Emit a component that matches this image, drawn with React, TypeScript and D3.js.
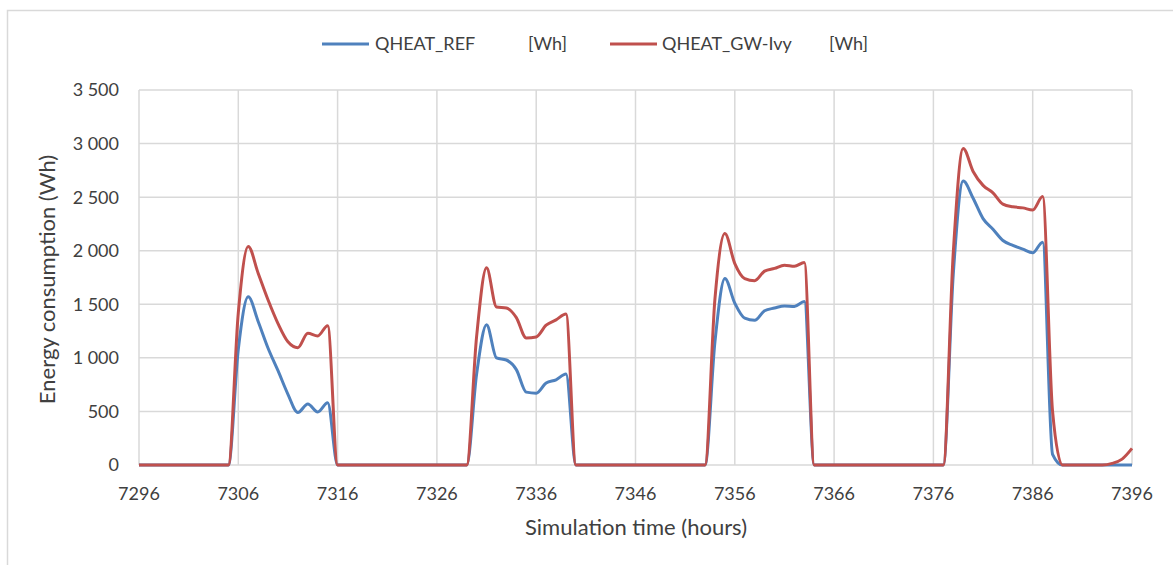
import React from "react";
import * as d3 from "d3";

const hours: number[] = d3.range(7296, 7397);

// QHEAT_REF [Wh], hourly values 7296..7396
const qheatRef: number[] = [
  0, 0, 0, 0, 0, 0, 0, 0, 0, 0, // 7296-7305
  1080, 1570, 1340, 1090, 880, 660, 490, 570, 495, 580, // 7306-7315
  0, 0, 0, 0, 0, 0, 0, 0, 0, 0, // 7316-7325
  0, 0, 0, 0, 850, 1310, 1000, 980, 890, 680, // 7326-7335
  670, 765, 795, 850, 0, 0, 0, 0, 0, 0, // 7336-7345
  0, 0, 0, 0, 0, 0, 0, 0, 1150, 1740, // 7346-7355
  1510, 1370, 1350, 1440, 1465, 1485, 1480, 1525, 0, 0, // 7356-7365
  0, 0, 0, 0, 0, 0, 0, 0, 0, 0, // 7366-7375
  0, 0, 1780, 2650, 2490, 2300, 2200, 2095, 2050, 2015, // 7376-7385
  1980, 2080, 100, 0, 0, 0, 0, 0, 0, 0, // 7386-7395
  0, // 7396
];

// QHEAT_GW-Ivy [Wh]
const qheatIvy: number[] = [
  0, 0, 0, 0, 0, 0, 0, 0, 0, 0,
  1420, 2040, 1790, 1540, 1320, 1150, 1095, 1230, 1205, 1300,
  0, 0, 0, 0, 0, 0, 0, 0, 0, 0,
  0, 0, 0, 0, 1200, 1840, 1475, 1465, 1375, 1185,
  1195, 1305, 1355, 1410, 0, 0, 0, 0, 0, 0,
  0, 0, 0, 0, 0, 0, 0, 0, 1550, 2160,
  1880, 1740, 1720, 1810, 1835, 1865, 1855, 1890, 0, 0,
  0, 0, 0, 0, 0, 0, 0, 0, 0, 0,
  0, 0, 1980, 2955, 2740, 2610, 2540, 2435, 2410, 2400,
  2380, 2505, 500, 0, 0, 0, 0, 0, 15, 55,
  155,
];

const xTicks: number[] = d3.range(7296, 7397, 10);
const yTicks: number[] = d3.range(0, 3501, 500);
const seriesNames: string[] = ["QHEAT_REF", "QHEAT_GW-Ivy"];
const seriesUnits: string[] = ["[Wh]", "[Wh]"];
const seriesColors: string[] = ["#4f81bd", "#c0504d"];

const W = 1173;
const H = 565;
const plot = { left: 139, right: 1132, top: 90, bottom: 465 };
const FONT = "Lato, 'Open Sans', sans-serif";
const TEXT = "#404040";

function fmt(v: number): string {
  if (v < 1000) return String(v);
  const s = String(v);
  return s.slice(0, s.length - 3) + " " + s.slice(s.length - 3);
}

export default function App() {
  const x = d3.scaleLinear().domain([7296, 7396]).range([plot.left, plot.right]);
  const y = d3.scaleLinear().domain([0, 3500]).range([plot.bottom, plot.top]);
  const line = d3
    .line<number>()
    .x((_, i) => x(hours[i]))
    .y((d) => y(d))
    .curve(d3.curveMonotoneX);

  const data = [qheatRef, qheatIvy];
  const legendLineX = [322, 610];
  const legendNameX = [375, 662];
  const legendUnitX = [528, 829];

  return (
    <svg width={W} height={H} style={{ position: "absolute", left: 0, top: 0 }}>
      <rect x={0} y={0} width={W} height={H} fill="#fff" />
      <rect x={7.5} y={10.5} width={W + 10} height={H + 10} fill="none" stroke="#d9d9d9" strokeWidth={1.5} />
      {/* gridlines */}
      {yTicks.map((t) => (
        <line key={"gy" + t} x1={plot.left} x2={plot.right} y1={y(t)} y2={y(t)} stroke="#d9d9d9" strokeWidth={1.5} />
      ))}
      {xTicks.map((t) => (
        <line key={"gx" + t} x1={x(t)} x2={x(t)} y1={plot.top} y2={plot.bottom} stroke="#d9d9d9" strokeWidth={1.5} />
      ))}
      {/* y tick labels */}
      {yTicks.map((t) => (
        <text key={"ty" + t} x={119} y={y(t)} dy="0.36em" textAnchor="end" fontFamily={FONT} fontSize={18} fill={TEXT}>
          {fmt(t)}
        </text>
      ))}
      {/* x tick labels */}
      {xTicks.map((t) => (
        <text key={"tx" + t} x={x(t)} y={500} textAnchor="middle" fontFamily={FONT} fontSize={18} fill={TEXT}>
          {t}
        </text>
      ))}
      {/* lines */}
      {data.map((d, i) => (
        <path key={"l" + i} d={line(d) || ""} fill="none" stroke={seriesColors[i]} strokeWidth={3} strokeLinejoin="round" />
      ))}
      {/* axis titles */}
      <text x={636} y={535} textAnchor="middle" fontFamily={FONT} fontSize={22} fill={TEXT}>
        Simulation time (hours)
      </text>
      <text
        transform={`translate(55,${(plot.top + plot.bottom) / 2 + 2}) rotate(-90)`}
        textAnchor="middle"
        fontFamily={FONT}
        fontSize={22}
        fill={TEXT}
      >
        Energy consumption (Wh)
      </text>
      {/* legend */}
      {seriesNames.map((n, i) => (
        <g key={"lg" + i}>
          <line x1={legendLineX[i]} x2={legendLineX[i] + 47} y1={44} y2={44} stroke={seriesColors[i]} strokeWidth={3} />
          <text x={legendNameX[i]} y={44} dy="0.36em" fontFamily={FONT} fontSize={18} fill={TEXT}>
            {n}
          </text>
          <text x={legendUnitX[i]} y={44} dy="0.36em" fontFamily={FONT} fontSize={18} fill={TEXT}>
            {seriesUnits[i]}
          </text>
        </g>
      ))}
    </svg>
  );
}
